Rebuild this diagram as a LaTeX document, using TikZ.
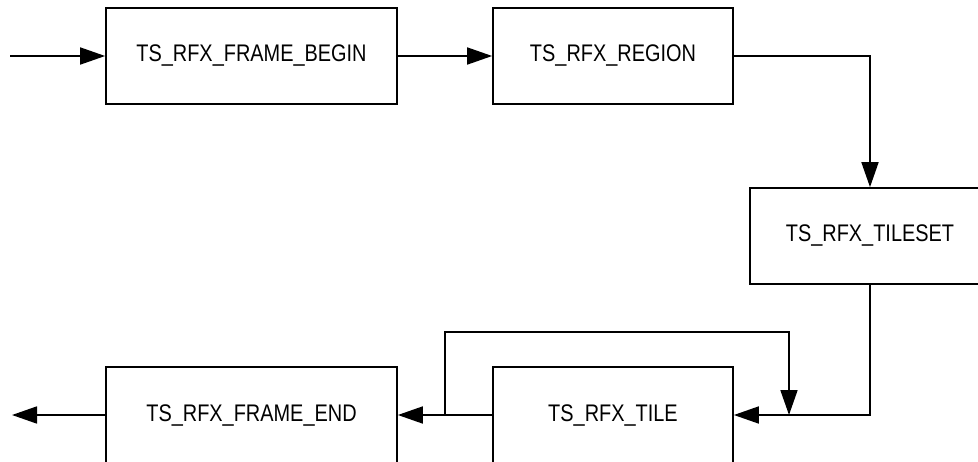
\documentclass[tikz,border=0pt]{standalone}
\usepackage{fontspec}
\newfontfamily\diafont[FakeStretch=0.83]{Liberation Sans}
\usetikzlibrary{arrows.meta}
\begin{document}
\begin{tikzpicture}[x=1pt,y=-1pt,
  stepbox/.style={draw=black, line width=1.7pt, minimum height=96pt, inner sep=0pt,
    font=\diafont\fontsize{24}{27}\selectfont},
  flow/.style={line width=1.7pt, -{Triangle[length=25pt,width=17pt]}},
  plain/.style={line width=1.7pt}]
\useasboundingbox (0,0) rectangle (978,461);
\node[stepbox, minimum width=291pt] (b1) at (251.5,56) {TS\_RFX\_FRAME\_BEGIN};
\node[stepbox, minimum width=240pt] (b2) at (613,56) {TS\_RFX\_REGION};
\node[stepbox, minimum width=240pt] (b3) at (870,236) {TS\_RFX\_TILESET};
\node[stepbox, minimum width=240pt] (tile) at (613,415) {TS\_RFX\_TILE};
\node[stepbox, minimum width=291pt] (fe) at (251.5,415) {TS\_RFX\_FRAME\_END};
\coordinate (in) at (10,56);
\coordinate (out) at (12,415);
\coordinate (j) at (445,415);
\coordinate (looptop) at (789,332);
\coordinate (loopend) at (789,415);
\draw[flow] (in) -- (b1.west);
\draw[flow] (b1.east) -- (b2.west);
\draw[flow] (b2.east) -| (b3.north);
\draw[flow] (b3.south) |- (tile.east);
\draw[flow] (tile.west) -- (fe.east);
\draw[flow] (j) |- (looptop) -- (loopend);
\draw[flow] (fe.west) -- (out);
\end{tikzpicture}
\end{document}
